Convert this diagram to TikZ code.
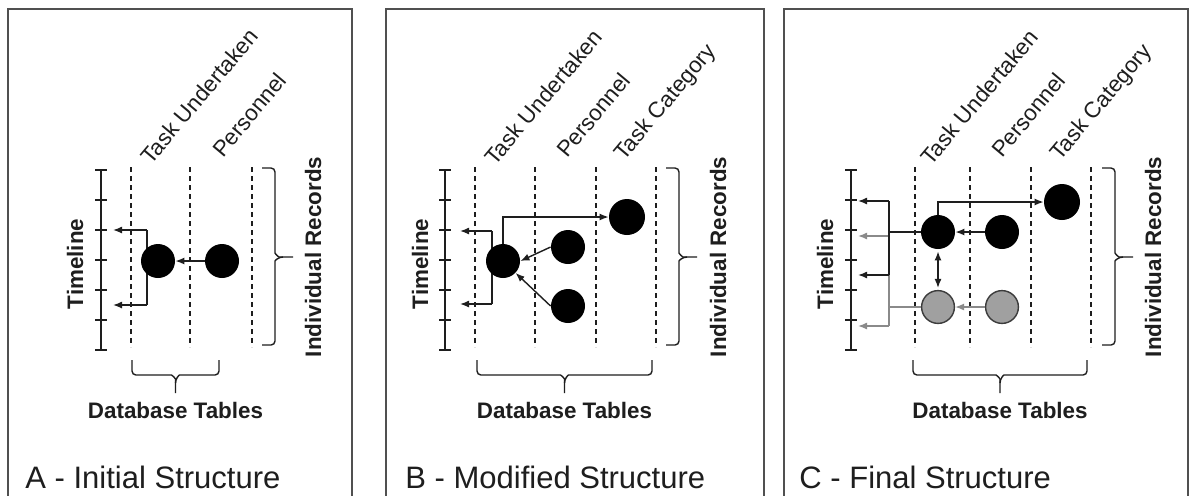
\documentclass[tikz,border=0pt]{standalone}
\usepackage{fontspec}
\setmainfont{Liberation Sans}
\usetikzlibrary{arrows.meta,calc}
\definecolor{framec}{HTML}{505050}
\definecolor{txt}{HTML}{1E1E1E}
\definecolor{gline}{HTML}{8A8A8A}
\definecolor{gfill}{HTML}{A0A0A0}
\definecolor{gdraw}{HTML}{3C3C3C}
\newcommand{\tlaxis}[1]{%
  \draw[axisline] (#1,170) -- (#1,350);
  \foreach \yy in {170,200,...,350} \draw[axisline] ({#1-6},\yy) -- ({#1+6},\yy);
}
\newcommand{\irbrace}[1]{%
  \pgfmathsetmacro{\ba}{#1+13}\pgfmathsetmacro{\bb}{#1+21}\pgfmathsetmacro{\bc}{#1+31}%
  \draw[bracestyle] (#1,168) -- (\ba,168) -- (\ba,249) to[out=-90,in=180] (\bb,257) -- (\bc,257);
  \draw[bracestyle] (#1,345) -- (\ba,345) -- (\ba,265) to[out=90,in=180] (\bb,257);
}
\newcommand{\dbbrace}[2]{%
  \pgfmathsetmacro{\bm}{(#1+#2)/2}\pgfmathsetmacro{\bl}{\bm-8}\pgfmathsetmacro{\br}{\bm+8}%
  \draw[bracestyle] (#1,360) -- (#1,375) -- (\bl,375) to[out=0,in=90] (\bm,383) -- (\bm,393);
  \draw[bracestyle] (#2,360) -- (#2,375) -- (\br,375) to[out=180,in=90] (\bm,383);
}
\begin{document}
\begin{tikzpicture}[x=0.5pt,y=-0.5pt,
  panel/.style={draw=framec,line width=0.8pt},
  axisline/.style={draw=txt,line width=0.75pt},
  col/.style={draw=txt,line width=0.6pt,dash pattern=on 2.5pt off 2pt},
  conn/.style={draw=txt,line width=0.7pt},
  arr/.style={conn,-{Latex[length=4.5pt,width=3.5pt]}},
  dbl/.style={conn,{Latex[length=4.5pt,width=3.5pt]}-{Latex[length=4.5pt,width=3.5pt]},shorten <=1pt,shorten >=1pt},
  gconn/.style={draw=gline,line width=0.7pt},
  garr/.style={gconn,-{Latex[length=4.5pt,width=3.5pt]}},
  rec/.style={circle,fill=black,minimum size=17pt,inner sep=0pt},
  recbig/.style={rec,minimum size=18pt},
  grec/.style={circle,fill=gfill,draw=gdraw,line width=0.7pt,minimum size=16.4pt,inner sep=0pt},
  collabel/.style={rotate=50,anchor=base west,inner sep=0pt,font=\fontsize{11.2}{13}\selectfont,text=txt},
  boldlabel/.style={font=\bfseries\fontsize{11.2}{13}\selectfont,text=txt,inner sep=0pt},
  vlabel/.style={boldlabel,rotate=90},
  dblabel/.style={boldlabel,anchor=base},
  title/.style={anchor=base west,inner sep=0pt,font=\fontsize{15.5}{18}\selectfont,text=txt},
  bracestyle/.style={draw=txt,line width=0.7pt,rounded corners=2pt},
]
\useasboundingbox (0,0) rectangle (1192,495);
\clip (0,0) rectangle (1192,495);
\fill[white] (0,0) rectangle (1192,495);

% ---------- frames ----------
\draw[panel] (8,9) rectangle (352,520);
\draw[panel] (386,9) rectangle (764,520);
\draw[panel] (784,9) rectangle (1188,520);

% ================= Panel A =================
\tlaxis{101}
\foreach \xx in {131,190,252} \draw[col] (\xx,167) -- (\xx,347);
\node[collabel] (A-lt) at (151,166) {Task Undertaken};
\node[collabel] (A-lp) at (223,159) {Personnel};
\node[vlabel] (A-tl) at (75,264) {Timeline};
\node[vlabel] (A-ir) at (313,257) {Individual Records};
\irbrace{262}
\dbbrace{132}{219}
\node[dblabel] (A-db) at (175.5,418) {Database Tables};
\node[title] (A-ti) at (25,488) {A - Initial Structure};

\coordinate (A-b1) at (147,230);
\coordinate (A-b2) at (147,305);
\coordinate (A-e1) at (113,230);
\coordinate (A-e2) at (113,305);
\draw[conn] (A-b1) -- (A-b2);
\draw[arr] (A-b1) -- (A-e1);
\draw[arr] (A-b2) -- (A-e2);
\node[rec] (A-T) at (158,261) {};
\node[rec] (A-P) at (222,261) {};
\draw[arr] (A-P) -- (A-T);

% ================= Panel B =================
\tlaxis{445}
\foreach \xx in {475,535,596,656} \draw[col] (\xx,167) -- (\xx,347);
\node[collabel] (B-lt) at (495,167) {Task Undertaken};
\node[collabel] (B-lp) at (567,159) {Personnel};
\node[collabel] (B-lc) at (624,162) {Task Category};
\node[vlabel] (B-tl) at (420,264) {Timeline};
\node[vlabel] (B-ir) at (718,257) {Individual Records};
\irbrace{666}
\dbbrace{477}{652}
\node[dblabel] (B-db) at (564.5,418) {Database Tables};
\node[title] (B-ti) at (405,488) {B - Modified Structure};

\coordinate (B-b1) at (492,231);
\coordinate (B-b2) at (492,304);
\coordinate (B-e1) at (460,231);
\coordinate (B-e2) at (460,304);
\draw[conn] (B-b1) -- (B-b2);
\draw[arr] (B-b1) -- (B-e1);
\draw[arr] (B-b2) -- (B-e2);
\node[rec] (B-T) at (503,261) {};
\node[rec] (B-P1) at (568,247) {};
\node[rec] (B-P2) at (568,306) {};
\node[recbig] (B-C) at (627,217) {};
\draw[arr] (B-P1.west) -- (B-T.east);
\draw[arr] (B-P2.west) -- (B-T);
\draw[arr] (B-T.north) |- (B-C.west);

% ================= Panel C =================
\tlaxis{851}
\foreach \xx in {915,970,1031,1091} \draw[col] (\xx,167) -- (\xx,347);
\node[collabel] (C-lt) at (931,167) {Task Undertaken};
\node[collabel] (C-lp) at (1002,159) {Personnel};
\node[collabel] (C-lc) at (1060,162) {Task Category};
\node[vlabel] (C-tl) at (825,264) {Timeline};
\node[vlabel] (C-ir) at (1153,257) {Individual Records};
\irbrace{1102}
\dbbrace{913}{1087}
\node[dblabel] (C-db) at (1000,418) {Database Tables};
\node[title] (C-ti) at (799,488) {C - Final Structure};

% grey records
\coordinate (C-g1) at (889,236);
\coordinate (C-g2) at (889,326);
\coordinate (C-gj) at (889,307);
\coordinate (C-ge1) at (858,236);
\coordinate (C-ge2) at (858,326);
\draw[gconn] (C-g1) -- (C-g2);
\draw[garr] (C-g1) -- (C-ge1);
\draw[garr] (C-g2) -- (C-ge2);
% black records
\coordinate (C-k1) at (889,201);
\coordinate (C-k2) at (889,275);
\coordinate (C-kj) at (889,232);
\coordinate (C-ke1) at (858,201);
\coordinate (C-ke2) at (858,275);
\draw[conn] (C-k1) -- (C-k2);
\draw[arr] (C-k1) -- (C-ke1);
\draw[arr] (C-k2) -- (C-ke2);

\node[rec] (C-Tb) at (938,232) {};
\node[rec] (C-Pb) at (1002,232) {};
\node[recbig] (C-Cb) at (1062,202) {};
\node[grec] (C-Tg) at (938,307) {};
\node[grec] (C-Pg) at (1002,307) {};

\draw[conn] (C-Tb.west) -- (C-kj);
\draw[gconn] (C-Tg.west) -- (C-gj);
\draw[arr] (C-Pb) -- (C-Tb);
\draw[garr] (C-Pg) -- (C-Tg);
\draw[dbl] (C-Tb) -- (C-Tg);
\draw[arr] (C-Tb.north) |- (C-Cb.west);
\end{tikzpicture}
\end{document}
